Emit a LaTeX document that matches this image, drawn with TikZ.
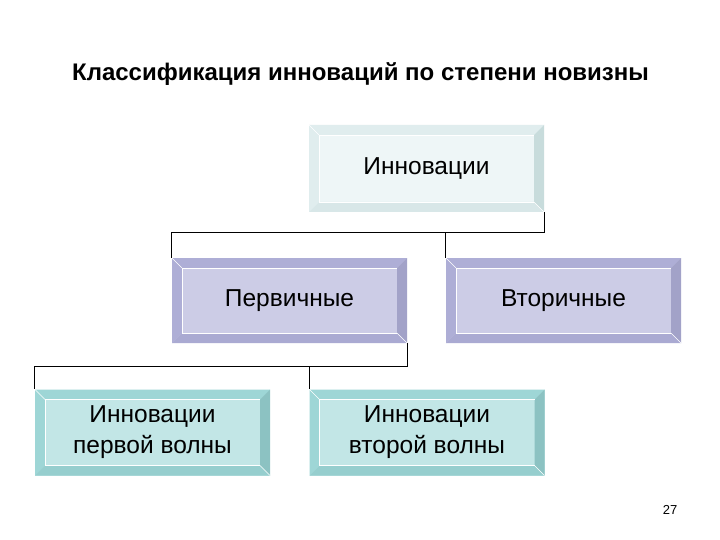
\documentclass[tikz,border=0pt]{standalone}
\usepackage{fontspec}
\setmainfont{Liberation Sans}
\begin{document}
\begin{tikzpicture}[x=1pt,y=-1pt,
  bevelbox/.style n args={5}{
    rectangle, inner sep=0pt, minimum width=235pt, minimum height=86pt,
    align=center, font=\fontsize{24.5}{31}\selectfont, fill=#1,
    path picture={
      \def\d{10pt}
      \fill[#2] (path picture bounding box.north west) -- (path picture bounding box.north east)
        -- ([xshift=-\d,yshift=-\d]path picture bounding box.north east)
        -- ([xshift=\d,yshift=-\d]path picture bounding box.north west) -- cycle;
      \fill[#3] (path picture bounding box.north west) -- (path picture bounding box.south west)
        -- ([xshift=\d,yshift=\d]path picture bounding box.south west)
        -- ([xshift=\d,yshift=-\d]path picture bounding box.north west) -- cycle;
      \fill[#4] (path picture bounding box.north east) -- (path picture bounding box.south east)
        -- ([xshift=-\d,yshift=\d]path picture bounding box.south east)
        -- ([xshift=-\d,yshift=-\d]path picture bounding box.north east) -- cycle;
      \fill[#5] (path picture bounding box.south west) -- (path picture bounding box.south east)
        -- ([xshift=-\d,yshift=\d]path picture bounding box.south east)
        -- ([xshift=\d,yshift=\d]path picture bounding box.south west) -- cycle;
      \draw[white, line width=0.8pt]
        ([xshift=-\d,yshift=-\d]path picture bounding box.north east)
        -- ([xshift=\d,yshift=-\d]path picture bounding box.north west)
        -- ([xshift=\d,yshift=\d]path picture bounding box.south west)
        -- ([xshift=-\d,yshift=\d]path picture bounding box.south east);
      \draw[white, line width=0.6pt] (path picture bounding box.north west)
        -- ([xshift=\d,yshift=-\d]path picture bounding box.north west);
      \draw[white, line width=0.6pt] (path picture bounding box.south east)
        -- ([xshift=-\d,yshift=\d]path picture bounding box.south east);
    }},
  topbox/.style={bevelbox={boxfaceA}{bevA}{bevA}{bevAr}{bevAb}},
  midbox/.style={bevelbox={boxfaceB}{bevB}{bevB}{bevBr}{bevBb}},
  lowbox/.style={bevelbox={boxfaceC}{bevC}{bevC}{bevCr}{bevCb}},
  link/.style={draw=black, line width=1.1pt}
]
\definecolor{boxfaceA}{HTML}{EEF6F7}
\definecolor{bevA}{HTML}{E0EDEE}
\definecolor{bevAr}{HTML}{C8DCDC}
\definecolor{bevAb}{HTML}{D8E7E8}
\definecolor{boxfaceB}{HTML}{CCCCE6}
\definecolor{bevB}{HTML}{AEAED6}
\definecolor{bevBr}{HTML}{A2A2C8}
\definecolor{bevBb}{HTML}{AAAAD2}
\definecolor{boxfaceC}{HTML}{C2E6E6}
\definecolor{bevC}{HTML}{9ED6D6}
\definecolor{bevCr}{HTML}{8CC2C2}
\definecolor{bevCb}{HTML}{96CECE}

\useasboundingbox[fill=white] (0,0) rectangle (720,540);

\node[anchor=base, font=\bfseries\fontsize{24}{28}\selectfont] (title) at (360.5,81)
  {Классификация инноваций по степени новизны};

\node[topbox, minimum height=87pt] (n1) at (426.5,168.5) {Инновации};
\node[midbox, minimum height=85pt] (n2) at (289.5,300.5) {Первичные};
\node[midbox, minimum height=85pt] (n3) at (563.5,300.5) {Вторичные};
\node[lowbox] (n4) at (152.5,432.5) {Инновации\\первой волны};
\node[lowbox] (n5) at (427,432.5) {Инновации\\второй волны};

\draw[link] (n1.south east) -- ++(0,20) -| (n2.north west);
\draw[link] (n1.south east) ++(0,20) -| (n3.north west);
\draw[link] (n2.south east) -- ++(0,23) -| (n4.north west);
\draw[link] (n2.south east) ++(0,23) -| (n5.north west);

\node[anchor=base, font=\fontsize{13}{15}\selectfont] (pg) at (670,514) {27};
\end{tikzpicture}
\end{document}
